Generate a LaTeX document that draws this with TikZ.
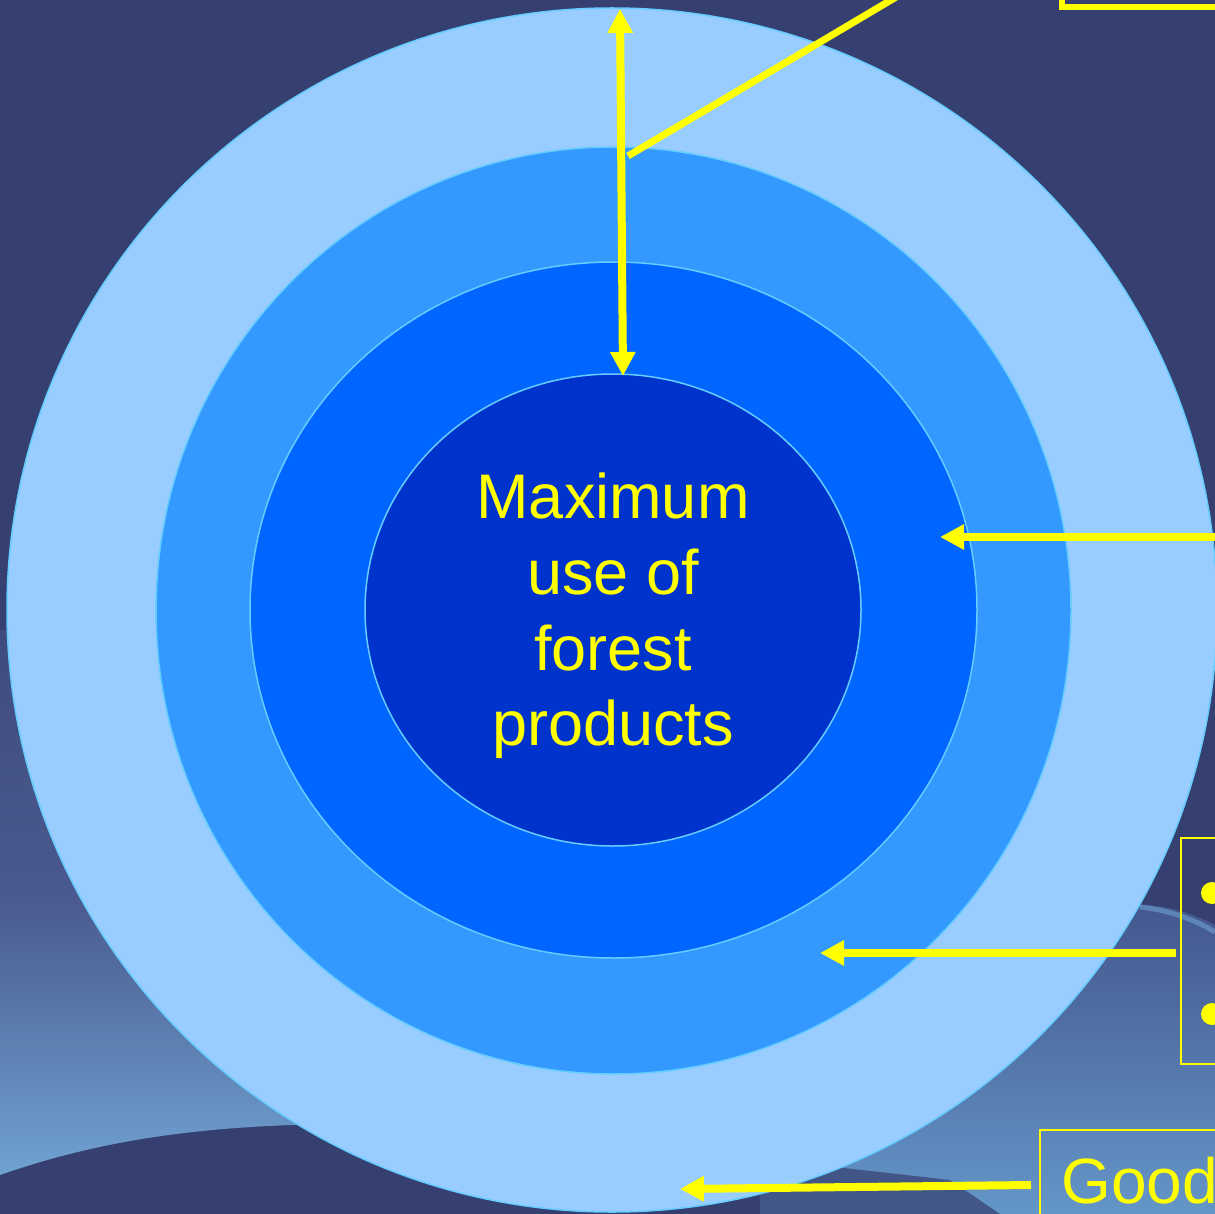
\documentclass[tikz,border=0pt]{standalone}
\usepackage{fontspec}
\setmainfont{Liberation Sans}
\usetikzlibrary{arrows.meta,calc}
\definecolor{bg}{HTML}{354070}
\definecolor{bglowA}{HTML}{3E4B7E}
\definecolor{bglowM}{HTML}{4A5A8E}
\definecolor{bglowB}{HTML}{6FA2D2}
\definecolor{bgrA}{HTML}{44578E}
\definecolor{bgrB}{HTML}{6496C8}
\definecolor{bgdark}{HTML}{3A4778}
\definecolor{ringA}{HTML}{99CCFF}
\definecolor{ringB}{HTML}{3399FF}
\definecolor{ringC}{HTML}{0066FF}
\definecolor{ringD}{HTML}{0033CC}
\definecolor{rimline}{HTML}{66CCFF}
\definecolor{yel}{HTML}{FFFF00}
\begin{document}
\begin{tikzpicture}[x=1pt,y=-1pt,
  ring/.style={draw=rimline, line width=1.5pt},
  yarrow/.style={draw=yel, line width=8pt, -{Triangle[width=24pt,length=24pt]}},
  ydouble/.style={draw=yel, line width=8pt, {Triangle[width=24pt,length=24pt]}-{Triangle[width=24pt,length=24pt]}},
  yline/.style={draw=yel, line width=7pt},
  thinbox/.style={draw=yel, line width=2pt, inner sep=0pt, anchor=north west},
  bigtext/.style={text=yel, font=\fontsize{63}{75.6}\selectfont, align=center, inner sep=0pt}]
\useasboundingbox (0,0) rectangle (1215,1214);
\clip (0,0) rectangle (1215,1214);
% background
\fill[bg] (0,0) rectangle (1215,1214);
\shade[top color=bglowA, bottom color=bglowM] (0,630) -- (330,630) -- (330,900) -- (0,900) -- cycle;
\shade[top color=bglowM, bottom color=bglowB] (0,899) -- (330,899) -- (330,1124)
  .. controls (200,1126) and (100,1140) .. (0,1175) -- cycle;
\shade[top color=bgrA, bottom color=bgrB] (760,1214) -- (760,1150)
  .. controls (980,1000) and (1060,905) .. (1140,905)
  .. controls (1170,905) and (1195,915) .. (1215,925) -- (1215,1214) -- cycle;
\fill[bgdark, opacity=0.8] (760,1150) -- (800,1163) -- (950,1180) -- (1000,1214) -- (760,1214) -- cycle;
\draw[bglowB, line width=5pt, opacity=0.6] (1140,907) .. controls (1170,910) and (1195,920) .. (1215,932);
% rings
\draw[ring, fill=ringA] (612,610) ellipse [x radius=605pt, y radius=602pt];
\draw[ring, fill=ringB] (613.5,610.5) ellipse [x radius=457.5pt, y radius=463.5pt];
\draw[ring, fill=ringC] (613.5,610) ellipse [x radius=363.5pt, y radius=348pt];
\draw[ring, fill=ringD] (613,610) ellipse [x radius=248pt, y radius=236pt];
% centre text
\node[bigtext] (core) at (613,616) {Maximum\\use of\\forest\\products};
% boxes
\node[draw=yel, line width=6pt, inner sep=0pt, anchor=south west, minimum width=260pt, minimum height=80pt] (boxtop) at (1059,10) {};
\node[thinbox, minimum width=120pt, minimum height=226pt] (boxmid) at (1180,837) {};
\node[thinbox, minimum width=300pt, minimum height=200pt] (boxlow) at (1039,1129) {};
\fill[yel] (1212,893) circle (11pt);
\fill[yel] (1212,1014) circle (11pt);
\node[anchor=base west, text=yel, font=\fontsize{64}{76}\selectfont, inner sep=0pt] (good) at (1061,1203) {Good};
% connector ends
\coordinate (ringtop) at (620,9);
\coordinate (coretop) at (623,376);
\coordinate (diagfoot) at (628,156);
\coordinate (diagout) at ($(boxtop.south west)+(-151,-20)$);
\coordinate (rightout) at (1235,537);
\coordinate (ringCtip) at (940,537);
\coordinate (midstart) at ($(boxmid.north west)+(-4,116)$);
\coordinate (ringBtip) at (820,953);
\coordinate (lowstart) at ($(boxlow.north west)+(-8,56)$);
\coordinate (ringAtip) at (680,1189);
% connectors
\draw[ydouble] (ringtop) -- (coretop);
\draw[yline] (diagfoot) -- (diagout);
\draw[yarrow] (rightout) -- (ringCtip);
\draw[yarrow] (midstart) -- (ringBtip);
\draw[yarrow] (lowstart) -- (ringAtip);
\end{tikzpicture}
\end{document}
